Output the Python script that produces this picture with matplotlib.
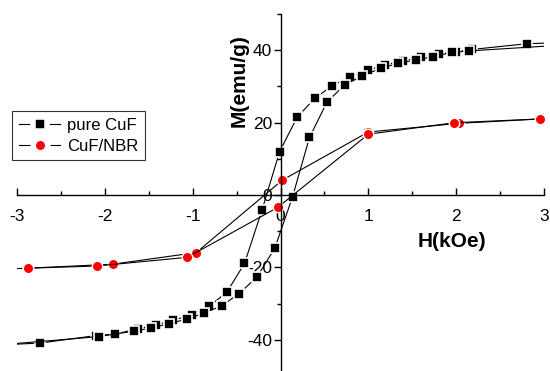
import matplotlib
matplotlib.use("Agg")
import matplotlib.pyplot as plt
from matplotlib.lines import Line2D
from matplotlib.ticker import MultipleLocator

plt.rcParams['font.family'] = ['Liberation Sans', 'DejaVu Sans']
plt.rcParams['axes.unicode_minus'] = False

# pure CuF: descending branch (+H -> -H) and ascending branch (-H -> +H)
cuf_desc_h = [3.6, 2.81, 2.18, 2.0, 1.80, 1.60, 1.39, 1.19, 1.0, 0.79, 0.59, 0.39, 0.19,
              -0.01, -0.21, -0.41, -0.61, -0.81, -1.01, -1.22, -1.42, -1.62, -1.88,
              -2.10, -2.74, -3.6]
cuf_desc_m = [42.4, 41.8, 40.2, 39.6, 38.9, 38.1, 37.0, 36.0, 34.5, 32.6, 30.2, 26.7, 21.5,
              12.0, -4.1, -18.9, -26.8, -30.7, -33.1, -34.6, -35.9, -36.9, -38.4,
              -38.8, -40.9, -41.8]
cuf_asc_h = [-3.6, -2.07, -1.67, -1.47, -1.27, -1.07, -0.87, -0.67, -0.475, -0.27, -0.065,
             0.137, 0.33, 0.53, 0.73, 0.93, 1.14, 1.34, 1.54, 1.74, 1.95, 2.15, 3.6]
cuf_asc_m = [-42.2, -39.1, -37.6, -36.7, -35.5, -34.3, -32.6, -30.6, -27.3, -22.7, -14.7,
             -0.5, 15.9, 25.7, 30.4, 32.9, 35.0, 36.4, 37.3, 38.2, 39.4, 39.8, 42.0]

# CuF/NBR
nbr_desc_h = [2.95, 2.03, 1.0, 0.02, -0.96, -1.91, -2.87, -3.3]
nbr_desc_m = [21.0, 19.8, 17.4, 4.1, -15.9, -19.1, -20.2, -20.6]
nbr_asc_h = [-2.87, -2.09, -1.06, -0.03, 1.0, 1.98, 2.95]
nbr_asc_m = [-20.2, -19.6, -17.2, -3.4, 16.8, 19.97, 21.0]

fig = plt.figure(figsize=(5.5, 3.71), dpi=100)
ax = fig.add_axes([0.031, 0.0, 0.958, 0.9623])

sq = dict(color='black', lw=0.8, marker='s', ms=6.5, mfc='black',
          mec='white', mew=1.2)
ci = dict(color='black', lw=0.8, marker='o', ms=7.5, mfc='red',
          mec='white', mew=1.0)

ax.plot(cuf_desc_h, cuf_desc_m, **sq)
ax.plot(cuf_asc_h, cuf_asc_m, **sq)
ax.plot(nbr_desc_h, nbr_desc_m, **ci)
ax.plot(nbr_asc_h, nbr_asc_m, **ci)

ax.set_xlim(-3, 3)
ax.set_ylim(-48.6, 50)

for s in ['top', 'right']:
    ax.spines[s].set_visible(False)
ax.spines['left'].set_position(('data', 0))
ax.spines['bottom'].set_position(('data', 0))
ax.spines['left'].set_linewidth(1.0)
ax.spines['bottom'].set_linewidth(1.0)

ax.set_xticks([-3, -2, -1, 0, 1, 2, 3])
ax.set_yticks([-40, -20, 0, 20, 40])
ax.xaxis.set_minor_locator(MultipleLocator(0.5))
ax.yaxis.set_minor_locator(MultipleLocator(10))
ax.tick_params(axis='x', which='major', direction='in', length=5, width=1,
               labelsize=12.5, pad=10)
ax.tick_params(axis='x', which='minor', direction='in', length=3, width=1)
ax.tick_params(axis='y', which='major', direction='out', length=5, width=1,
               labelsize=12.5, pad=1)
ax.tick_params(axis='y', which='minor', direction='out', length=3, width=1)

ax.text(-0.47, 31.5, 'M(emu/g)', rotation=90, fontsize=15, fontweight='bold',
        ha='center', va='center')
ax.text(1.95, -12.7, 'H(kOe)', fontsize=15, fontweight='bold',
        ha='center', va='center')

# legend entries drawn Origin-style: line, gap, symbol, gap, line
handles = [
    Line2D([], [], color='black', lw=0.8, marker='s', ms=9.5, mfc='black',
           mec='white', mew=4),
    Line2D([], [], color='black', lw=0.8, marker='o', ms=10.5, mfc='red',
           mec='white', mew=4),
]
leg = ax.legend(handles, ['pure CuF', 'CuF/NBR'], loc='upper left',
                bbox_to_anchor=(0.022, 0.70), bbox_transform=fig.transFigure,
                fontsize=12, frameon=True, fancybox=False, handlelength=2.5,
                handletextpad=0.4, borderpad=0.4, labelspacing=0.35,
                borderaxespad=0)
leg.get_frame().set_edgecolor('black')
leg.get_frame().set_linewidth(0.8)

fig.savefig('out.png', dpi=100)
